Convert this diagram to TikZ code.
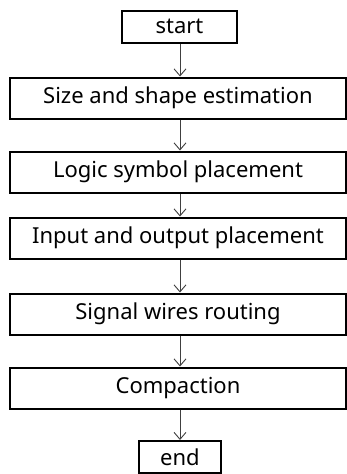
\documentclass[tikz,border=0pt]{standalone}
\usepackage{fontspec}
\setmainfont{Noto Sans}
\usetikzlibrary{arrows.meta}

\begin{document}
\begin{tikzpicture}[x=1pt, y=-1pt,
  stage/.style={draw, line width=2pt, minimum width=336pt, minimum height=41pt,
    inner sep=0pt, font=\fontsize{22}{26}\selectfont},
  term/.style={stage, minimum height=32pt},
  flow/.style={-{Straight Barb[length=7pt, width=12pt]}, line width=0.9pt, black!75}]
\useasboundingbox (0,0) rectangle (347,474);

% start and end terminals
\node[term, minimum width=115pt] (start) at (179.5,26.5) {start};
\node[term, minimum width=82pt] (end) at (180,457) {end};

% processing steps
\node[stage] (size) at (178,98) {Size and shape estimation};
\node[stage] (logic) at (178,172) {Logic symbol placement};
\node[stage] (io) at (178,238) {Input and output placement};
\node[stage] (route) at (178,314) {Signal wires routing};
\node[stage] (compact) at (178,388) {Compaction};

% arrows between steps
\draw[flow] (start.south -| end) -- (size.north -| end);
\draw[flow] (size.south -| end) -- (logic.north -| end);
\draw[flow] (logic.south -| end) -- (io.north -| end);
\draw[flow] (io.south -| end) -- (route.north -| end);
\draw[flow] (route.south -| end) -- (compact.north -| end);
\draw[flow] (compact.south -| end) -- (end.north);

\end{tikzpicture}
\end{document}
